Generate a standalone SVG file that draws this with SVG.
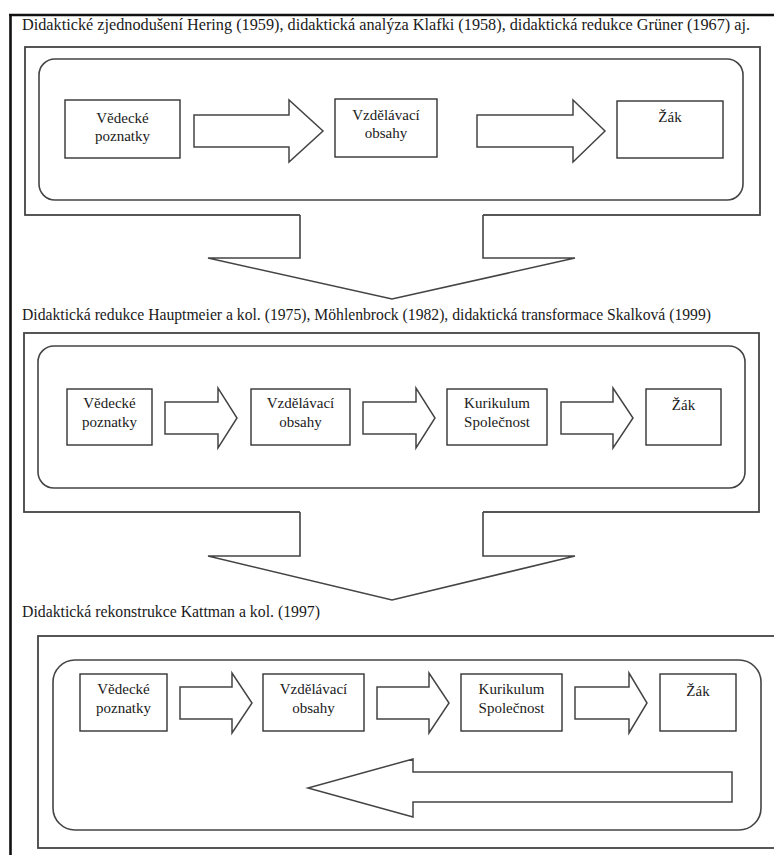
<svg xmlns="http://www.w3.org/2000/svg" width="774" height="855" viewBox="0 0 774 855">
<style>
  .page{fill:none;stroke:#111;stroke-width:2.6}
  .frame{fill:none;stroke:#444;stroke-width:1.8}
  .round{fill:none;stroke:#444;stroke-width:1.6}
  .box{fill:#fff;stroke:#333;stroke-width:1.4}
  .blk{fill:#fff;stroke:#444;stroke-width:1.5;stroke-linejoin:miter}
  .cover{fill:#fff;stroke:none}
  .edge{fill:none;stroke:#444;stroke-width:1.6;stroke-linejoin:miter}
  text{font-family:'Liberation Serif','DejaVu Serif',serif;fill:#1a1a1a}
  .title{font-size:16px}
  .lbl{font-size:15px;text-anchor:middle}
</style>
<rect width="774" height="855" fill="#fff"/>
<g id="page-border">
  <line class="page" x1="9" y1="15" x2="774" y2="15"/>
  <line class="page" x1="10.5" y1="14" x2="10.5" y2="855"/>
</g>

<g id="section1" font-family="Liberation Serif, serif">
  <text class="title" x="22" y="30" textLength="728" lengthAdjust="spacingAndGlyphs">Didaktické zjednodušení Hering (1959), didaktická analýza Klafki (1958), didaktická redukce Grüner (1967) aj.</text>
  <rect class="frame" x="25" y="47" width="735" height="168"/>
  <rect class="round" x="39" y="59" width="704" height="141" rx="16" ry="16"/>
</g>
<g id="section2" font-family="Liberation Serif, serif">
  <text class="title" x="22" y="320" textLength="689" lengthAdjust="spacingAndGlyphs">Didaktická redukce Hauptmeier a kol. (1975), Möhlenbrock (1982), didaktická transformace Skalková (1999)</text>
  <rect class="frame" x="24" y="333" width="735" height="179"/>
  <rect class="round" x="38" y="346" width="707" height="142" rx="16" ry="16"/>
</g>
<g id="section3" font-family="Liberation Serif, serif">
  <text class="title" x="22" y="617" textLength="298" lengthAdjust="spacingAndGlyphs">Didaktická rekonstrukce Kattman a kol. (1997)</text>
  <rect class="frame" x="38" y="636" width="745" height="212"/>
  <rect class="round" x="53" y="660" width="708" height="170" rx="22" ry="22"/>
</g>

<g id="connectors">
  <g id="down-arrow-1">
    <polygon class="cover" points="300,212 300,258 208,258 392,299 575,258 483,258 483,212"/>
    <polyline class="edge" points="300,215 300,258 208,258 392,299 575,258 483,258 483,215"/>
  </g>
  <g id="down-arrow-2">
    <polygon class="cover" points="300,509 300,556 208,556 392,600 575,556 483,556 483,509"/>
    <polyline class="edge" points="300,512 300,556 208,556 392,600 575,556 483,556 483,512"/>
  </g>
  <polygon class="blk" points="194,115 289,115 289,100 323,131 289,162 289,147 194,147"/>
  <polygon class="blk" points="477,115 573,115 573,100 605,131 573,162 573,147 477,147"/>
  <polygon class="blk" points="165,402 218,402 218,388 237,418 218,448 218,434 165,434"/>
  <polygon class="blk" points="363,402 416,402 416,388 435,418 416,448 416,434 363,434"/>
  <polygon class="blk" points="561,402 613,402 613,388 633,418 613,448 613,434 561,434"/>
  <polygon class="blk" points="180,687 232,687 232,673 252,703 232,733 232,719 180,719"/>
  <polygon class="blk" points="377,687 429,687 429,673 449,703 429,733 429,719 377,719"/>
  <polygon class="blk" points="575,687 629,687 629,673 647,703 629,733 629,719 575,719"/>
  <polygon id="back-arrow" class="blk" points="732,772 413,772 413,759 308,788 413,817 413,802 732,802"/>
</g>

<g id="nodes" font-family="Liberation Serif, serif">
<g id="n1-vedecke">
  <rect class="box" x="65" y="100" width="115" height="58"/>
  <text class="lbl" x="122.5" y="123">Vědecké</text>
  <text class="lbl" x="122.5" y="141">poznatky</text>
</g>
<g id="n1-vzdelavaci">
  <rect class="box" x="335" y="99" width="102" height="58"/>
  <text class="lbl" x="386" y="120">Vzdělávací</text>
  <text class="lbl" x="386" y="138">obsahy</text>
</g>
<g id="n1-zak">
  <rect class="box" x="617" y="101" width="106" height="57"/>
  <text class="lbl" x="670" y="122">Žák</text>
</g>

<g id="n2-vedecke">
  <rect class="box" x="67" y="389" width="85" height="56"/>
  <text class="lbl" x="109.5" y="408">Vědecké</text>
  <text class="lbl" x="109.5" y="427">poznatky</text>
</g>
<g id="n2-vzdelavaci">
  <rect class="box" x="251" y="389" width="99" height="56"/>
  <text class="lbl" x="300.5" y="408">Vzdělávací</text>
  <text class="lbl" x="300.5" y="427">obsahy</text>
</g>
<g id="n2-kurikulum">
  <rect class="box" x="447" y="389" width="100" height="56"/>
  <text class="lbl" x="497" y="408">Kurikulum</text>
  <text class="lbl" x="497" y="427">Společnost</text>
</g>
<g id="n2-zak">
  <rect class="box" x="646" y="389" width="75" height="56"/>
  <text class="lbl" x="683.5" y="410">Žák</text>
</g>

<g id="n3-vedecke">
  <rect class="box" x="80" y="674" width="87" height="57"/>
  <text class="lbl" x="123.5" y="694">Vědecké</text>
  <text class="lbl" x="123.5" y="713">poznatky</text>
</g>
<g id="n3-vzdelavaci">
  <rect class="box" x="263" y="674" width="101" height="57"/>
  <text class="lbl" x="313.5" y="694">Vzdělávací</text>
  <text class="lbl" x="313.5" y="713">obsahy</text>
</g>
<g id="n3-kurikulum">
  <rect class="box" x="461" y="674" width="101" height="57"/>
  <text class="lbl" x="511.5" y="694">Kurikulum</text>
  <text class="lbl" x="511.5" y="713">Společnost</text>
</g>
<g id="n3-zak">
  <rect class="box" x="660" y="674" width="76" height="57"/>
  <text class="lbl" x="698" y="696">Žák</text>
</g>
</g>
</svg>
